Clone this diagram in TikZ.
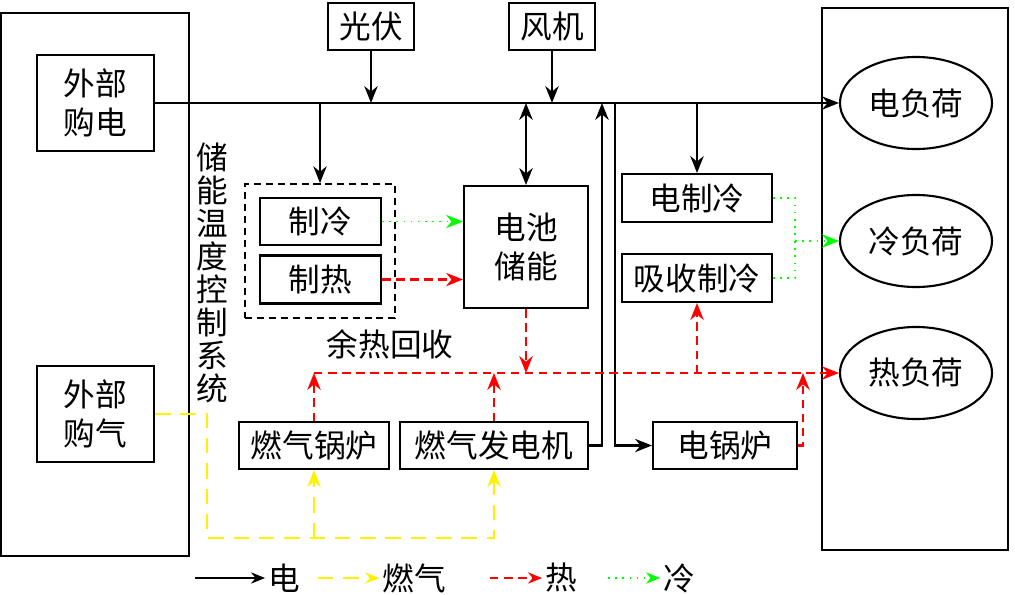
\documentclass[tikz,border=0pt]{standalone}
\usepackage{fontspec}
\newfontfamily\cjk{Noto Sans CJK SC}
\usetikzlibrary{arrows.meta,shapes.geometric,positioning}

\begin{document}
\begin{tikzpicture}[
    x=0.025cm, y=-0.025cm,
    >={Stealth[length=12pt,width=9.5pt]},
    font=\cjk\fontsize{22.5}{28}\selectfont,
    unit/.style={draw, line width=1.5pt, align=center, inner sep=2pt},
    frame/.style={draw, line width=1.5pt},
    load/.style={draw, ellipse, line width=1.5pt, minimum width=3.8cm, minimum height=2.3cm},
    elec/.style={->, line width=1.5pt},
    twoway/.style={<->, line width=1.5pt},
    gasline/.style={line width=1.5pt, yellow, dash pattern=on 11pt off 7pt},
    hotline/.style={line width=1.5pt, red, dash pattern=on 6pt off 4pt},
    coldline/.style={line width=1.1pt, green, dash pattern=on 1.1pt off 4pt},
    legend/.style={inner sep=2pt}
]
    \useasboundingbox (0,0) rectangle (1015,594);

    % Outer frames
    \node[frame, minimum width=4.7cm, minimum height=13.575cm] (sys) at (95,284.5) {};
    \node[frame, minimum width=4.65cm, minimum height=13.55cm] (loads) at (915,279) {};
    \node[align=center, font=\cjk\fontsize{22.5}{23.4}\selectfont] (ctrl) at (212,273) {储\\能\\温\\度\\控\\制\\系\\统};

    % Supply side
    \node[unit, minimum width=2.925cm, minimum height=2.4cm] (buyE) at (95.5,103) {外部\\购电};
    \node[unit, minimum width=2.925cm, minimum height=2.4cm] (buyG) at (95.5,414) {外部\\购气};
    \node[unit, minimum width=2.15cm, minimum height=1.175cm] (pv) at (371,26.5) {光伏};
    \node[unit, minimum width=2.15cm, minimum height=1.175cm] (wind) at (552,26.5) {风机};

    % Loads
    \node[load] (eload) at (916,103) {电负荷};
    \node[load] (cload) at (916,241) {冷负荷};
    \node[load] (hload) at (916,373) {热负荷};

    % Storage temperature control
    \node[draw, line width=1.2pt, dash pattern=on 5pt off 3.5pt, minimum width=3.75cm, minimum height=3.35cm] (tbox) at (320,251) {};
    \node[unit, minimum width=3.025cm, minimum height=1.175cm] (cool) at (320.5,221.5) {制冷};
    \node[unit, minimum width=3.025cm, minimum height=1.2cm] (heat) at (320.5,279.5) {制热};
    \node[unit, minimum width=3.1cm, minimum height=3.05cm] (batt) at (526,247) {电池\\储能};
    \node (waste) at (390,344) {余热回收};

    % Conversion units
    \node[unit, minimum width=3.75cm, minimum height=1.2cm] (ecool) at (697,198) {电制冷};
    \node[unit, minimum width=3.75cm, minimum height=1.2cm] (acool) at (697,278) {吸收制冷};
    \node[unit, minimum width=3.75cm, minimum height=1.175cm] (gboil) at (314,445.5) {燃气锅炉};
    \node[unit, minimum width=4.7cm, minimum height=1.175cm] (ggen) at (494,445.5) {燃气发电机};
    \node[unit, minimum width=3.6cm, minimum height=1.175cm] (eboil) at (725,445.5) {电锅炉};

    % Tap points
    \coordinate (genup) at (602,103);
    \coordinate (boildn) at (615,103);
    \coordinate (cmix) at (795,241);
    \coordinate (hin) at (803,373);
    \coordinate (gcorner) at (207,538);

    % Electricity
    \draw[elec] (buyE.east) -- (eload.west);
    \draw[elec] (pv.south) -- (pv.south |- buyE.east);
    \draw[elec] (wind.south) -- (wind.south |- buyE.east);
    \draw[elec] (tbox.north |- buyE.east) -- (tbox.north);
    \draw[twoway] (batt.north |- buyE.east) -- (batt.north);
    \draw[elec] (ggen.east) -| (genup);
    \draw[elec] (boildn) |- (eboil.west);
    \draw[elec] (ecool.north |- buyE.east) -- (ecool.north);

    % Cooling
    \draw[coldline, ->] (cool.east) -- (cool.east -| batt.west);
    \draw[coldline] (ecool.east) -| (cmix);
    \draw[coldline] (acool.east) -| (cmix);
    \draw[coldline, ->] (cmix) -- (cload.west);

    % Heat
    \draw[hotline, ->] (heat.east) -- (heat.east -| batt.west);
    \draw[hotline, ->] (gboil.north |- hload.west) -- (hload.west);
    \draw[hotline, ->] (batt.south) -- (batt.south |- hload.west);
    \draw[hotline, ->] (gboil.north) -- (gboil.north |- hload.west);
    \draw[hotline, ->] (ggen.north) -- (ggen.north |- hload.west);
    \draw[hotline, ->] (acool.south |- hload.west) -- (acool.south);
    \draw[hotline, ->] (eboil.east) -| (hin);

    % Gas
    \draw[gasline, ->] (buyG.east) -| (gcorner) -| (ggen.south);
    \draw[gasline, ->] (gboil.south |- gcorner) -- (gboil.south);

    % Legend
    \coordinate (lgE) at (195,578);
    \coordinate (lgG) at (318,578);
    \coordinate (lgH) at (490,578);
    \coordinate (lgC) at (608,578);
    \node[legend] (lgEt) at (284,578) {电};
    \node[legend] (lgGt) at (414,578) {燃气};
    \node[legend] (lgHt) at (561,578) {热};
    \node[legend] (lgCt) at (679,578) {冷};
    \draw[elec, >={Stealth[length=10pt,width=8pt]}] (lgE) -- (lgEt.west);
    \draw[gasline, ->, >={Stealth[length=10pt,width=8pt]}] (lgG) -- (lgGt.west);
    \draw[hotline, ->, >={Stealth[length=10pt,width=8pt]}] (lgH) -- (lgHt.west);
    \draw[coldline, ->, >={Stealth[length=10pt,width=8pt]}] (lgC) -- (lgCt.west);

\end{tikzpicture}
\end{document}
